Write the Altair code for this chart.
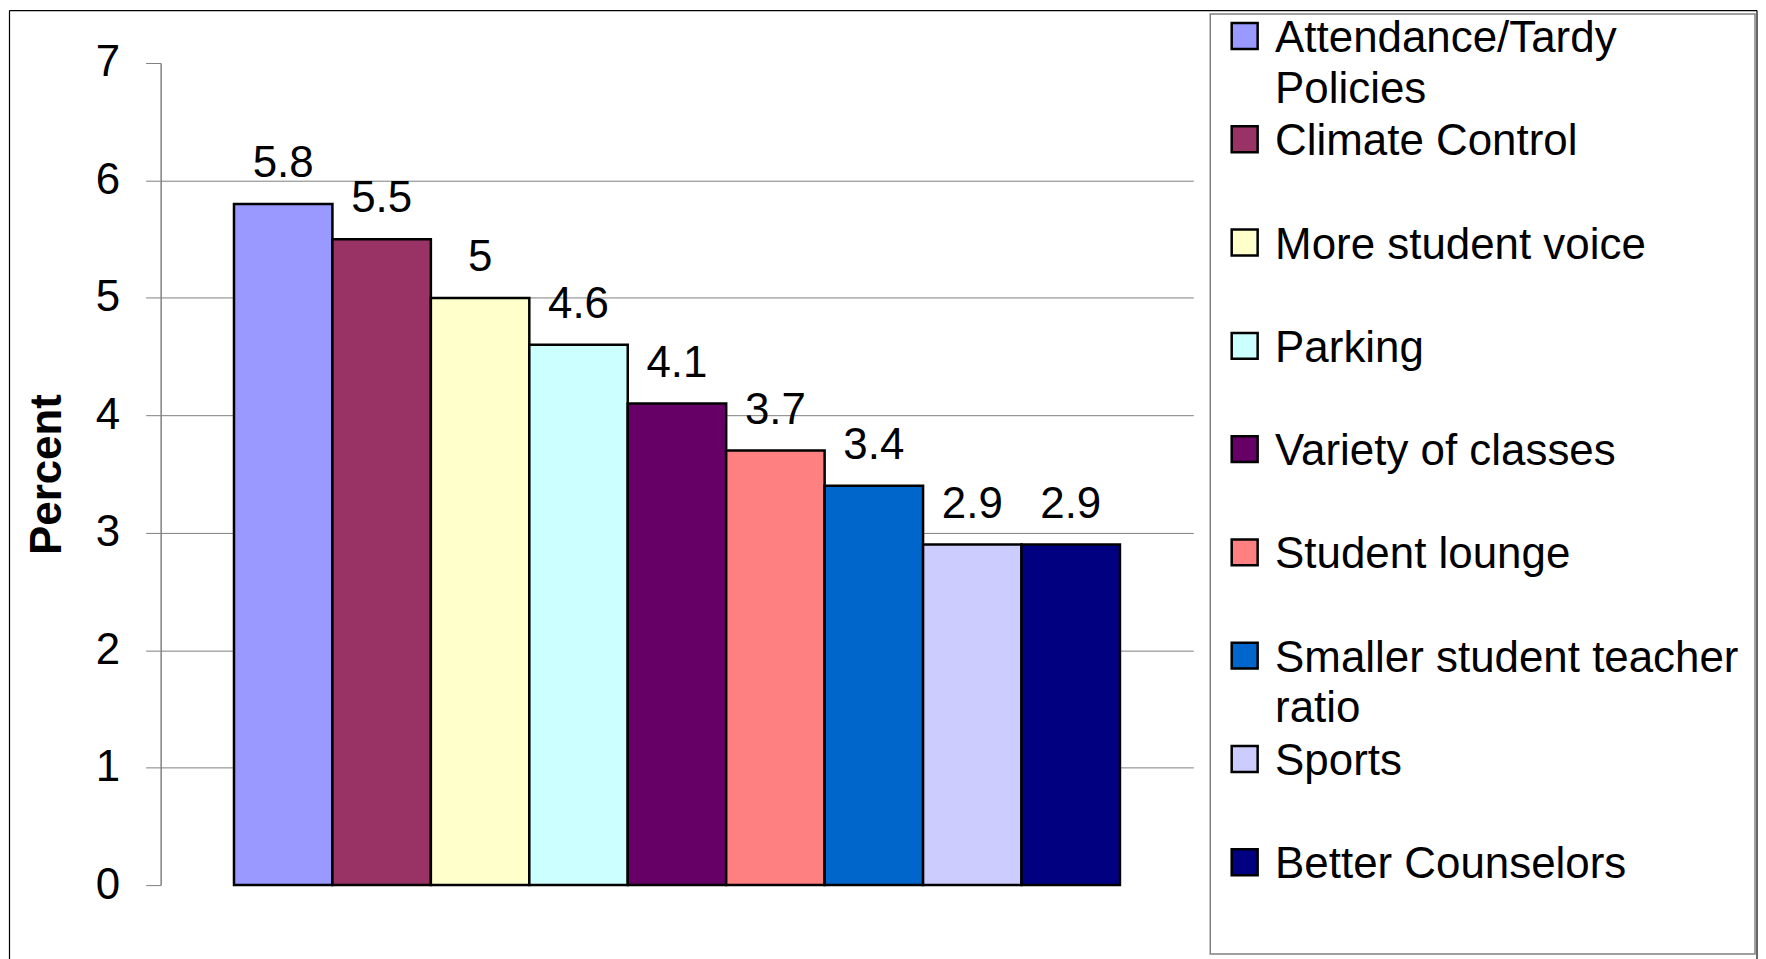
import altair as alt
import pandas as pd

categories = [
    "Attendance/Tardy Policies",
    "Climate Control",
    "More student voice",
    "Parking",
    "Variety of classes",
    "Student lounge",
    "Smaller student teacher ratio",
    "Sports",
    "Better Counselors",
]
values = [5.8, 5.5, 5.0, 4.6, 4.1, 3.7, 3.4, 2.9, 2.9]
value_labels = ["5.8", "5.5", "5", "4.6", "4.1", "3.7", "3.4", "2.9", "2.9"]
colors = ["#9999FF", "#993366", "#FFFFCC", "#CCFFFF", "#660066",
          "#FF8080", "#0066CC", "#CCCCFF", "#000080"]
y_ticks = [0, 1, 2, 3, 4, 5, 6, 7]
wrapped = {
    "Attendance/Tardy Policies": ["Attendance/Tardy", "Policies"],
    "Smaller student teacher ratio": ["Smaller student teacher", "ratio"],
}

FONT = "Liberation Sans, Arial, sans-serif"

df = pd.DataFrame({"cat": categories, "val": values, "lab": value_labels})

# every legend entry takes two text lines, as in the original legend box
label_expr = "[datum.label, '']"
for k, parts in wrapped.items():
    arr = "[" + ",".join("'" + p + "'" for p in parts) + "]"
    label_expr = f"datum.label == '{k}' ? {arr} : ({label_expr})"

x_enc = alt.X("cat:N", sort=categories, axis=None,
              scale=alt.Scale(paddingInner=0, paddingOuter=0.745))
y_enc = alt.Y(
    "val:Q",
    scale=alt.Scale(domain=[0, 7], nice=False),
    axis=alt.Axis(
        values=y_ticks, format="d", title="Percent", grid=True,
        gridOpacity={"condition": {"test": "datum.value == 0 || datum.value == 7", "value": 0}, "value": 1},
    ),
)

base = alt.Chart(df)

bars = base.mark_bar(stroke="black", strokeWidth=2.5).encode(
    x=x_enc,
    y=y_enc,
    color=alt.Color(
        "cat:N", sort=categories,
        scale=alt.Scale(domain=categories, range=colors),
        legend=alt.Legend(
            title=None, orient="none", legendX=1052, legendY=-49,
            symbolType="M-1,-2.23H1V-0.23H-1Z", symbolSize=676,
            symbolStrokeColor="black", symbolStrokeWidth=2.5,
            labelFont=FONT, labelFontSize=44, labelColor="black",
            labelLimit=900, labelOffset=8.5, labelBaseline="alphabetic",
            labelExpr=label_expr, gridAlign="all", rowPadding=8.5,
            padding=16, strokeColor="#808080",
            fillColor="white", symbolOffset=-3.5,
        ),
    ),
)

texts = base.mark_text(dy=-27, baseline="alphabetic", align="center",
                       fontSize=44, font=FONT, color="black").encode(
    x=x_enc, y=alt.Y("val:Q"), text="lab:N"
)

one = pd.DataFrame({"d": [0]})
left_edge = alt.Chart(one).mark_rule(color="black", strokeWidth=1.2).encode(
    x=alt.value(-151.5), y=alt.value(-52.5), y2=alt.value(920))
top_edge = alt.Chart(one).mark_rule(color="black", strokeWidth=1.2).encode(
    x=alt.value(-151.5), x2=alt.value(1600), y=alt.value(-52.5))
right_edge = alt.Chart(one).mark_rule(color="black", strokeWidth=1.2).encode(
    x=alt.value(1600), y=alt.value(-52.5), y2=alt.value(920))

chart = alt.layer(left_edge, top_edge, right_edge, bars, texts).properties(
    width=1035, height=824, padding=0
).configure(
    style={"guide-label": {"lineHeight": 51}}
).configure_view(strokeWidth=0).configure_axis(
    domainColor="#808080", domainWidth=1.5,
    tickColor="#808080", tickSize=15, tickWidth=1,
    gridColor="#808080", gridWidth=1,
    labelFont=FONT, labelFontSize=44, labelColor="black", labelPadding=26,
    titleFont=FONT, titleFontSize=44, titleFontWeight="bold", titleColor="black",
    titlePadding=26,
).configure_legend(strokeWidth=1.5)

chart.save("out.html", embed_options={"renderer": "svg", "actions": False})
